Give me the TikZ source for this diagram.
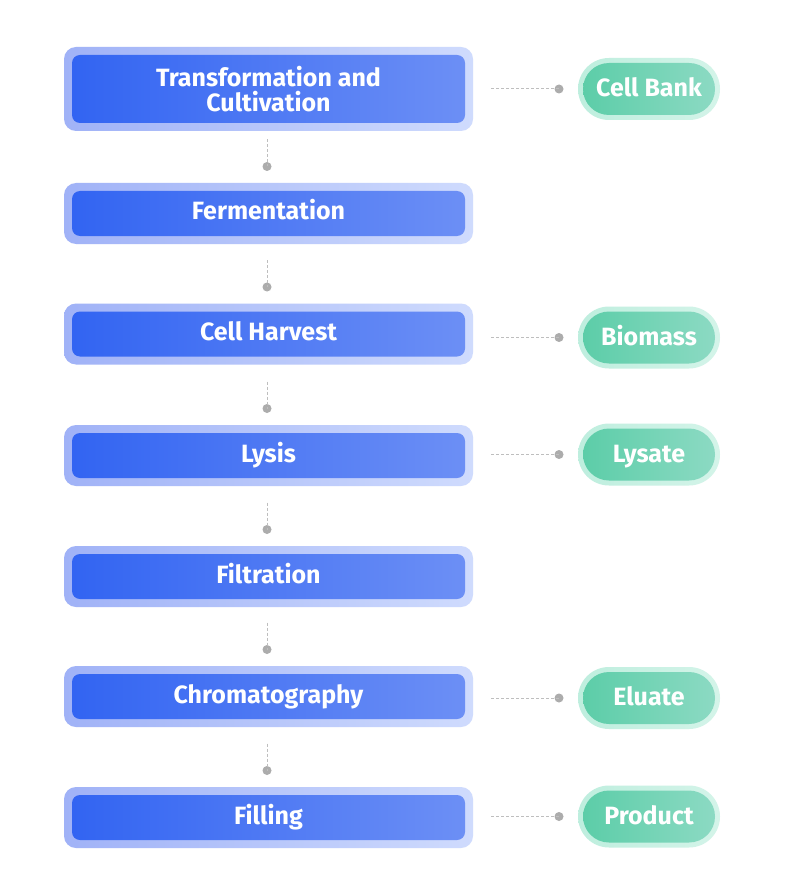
\documentclass[tikz,border=0pt]{standalone}
\usepackage{fontspec}
\setmainfont{Fira Sans}
\usetikzlibrary{shapes.misc,calc}
\definecolor{boL}{RGB}{160,178,247}
\definecolor{boR}{RGB}{207,219,253}
\definecolor{biL}{RGB}{50,100,242}
\definecolor{biR}{RGB}{108,143,245}
\definecolor{goL}{RGB}{190,238,222}
\definecolor{goR}{RGB}{212,244,233}
\definecolor{giL}{RGB}{92,205,168}
\definecolor{giR}{RGB}{140,218,195}
\definecolor{dashc}{RGB}{190,190,190}
\definecolor{dotc}{RGB}{172,172,172}
\tikzset{
  outerbox/.style={rectangle, rounded corners=12pt, minimum width=409pt, minimum height=61pt, left color=boL, right color=boR, draw=none, inner sep=0pt},
  innerbase/.style={rectangle, rounded corners=8pt, minimum width=393pt, minimum height=45pt, left color=biL, right color=biR, draw=none, text=white, font=\fontsize{25}{25.7}\selectfont\bfseries, inner sep=0pt},
  innerbox/.style={innerbase, text height=18pt, text depth=5pt},
  innertwo/.style={innerbase, align=center, minimum height=68pt},
  pillout/.style={rounded rectangle, minimum width=142pt, minimum height=62pt, left color=goL, right color=goR, draw=none, inner sep=0pt},
  pillin/.style={rounded rectangle, minimum width=132pt, minimum height=52pt, left color=giL, right color=giR, draw=none, text=white, font=\fontsize{25}{26}\selectfont\bfseries, inner sep=0pt, text height=19pt, text depth=4pt},
  dotnode/.style={circle, fill=dotc, minimum size=9pt, inner sep=0pt},
  conn/.style={draw=dashc, dash pattern=on 3pt off 2pt, line width=1pt}
}
\begin{document}
\begin{tikzpicture}[x=1pt,y=-1pt]
\useasboundingbox (0,0) rectangle (785,893);
\fill[white] (0,0) rectangle (785,893);
% process boxes
\node[outerbox, minimum height=84pt] (o0) at (268.5,89) {};
\node[innertwo] (s0) at (268.5,89) {Transformation and\\Cultivation};
\node[outerbox] (o1) at (268.5,213.5) {};
\node[innerbox] (s1) at (268.5,213.5) {Fermentation};
\node[outerbox] (o2) at (268.5,334) {};
\node[innerbox] (s2) at (268.5,334) {Cell Harvest};
\node[outerbox] (o3) at (268.5,455.5) {};
\node[innerbox] (s3) at (268.5,455.5) {Lysis};
\node[outerbox] (o4) at (268.5,576.5) {};
\node[innerbox] (s4) at (268.5,576.5) {Filtration};
\node[outerbox] (o5) at (268.5,696.5) {};
\node[innerbox] (s5) at (268.5,696.5) {Chromatography};
\node[outerbox] (o6) at (268.5,817.5) {};
\node[innerbox] (s6) at (268.5,817.5) {Filling};
% vertical connectors
\foreach \i/\y in {1/166.5,2/287,3/408.5,4/529.5,5/649.5,6/770.5}{
  \node[dotnode] (v\i) at (267,\y) {};
  \coordinate (vs\i) at (267,\y-27);
  \draw[conn] (vs\i) -- (v\i.center);
}
% outputs
\node[pillout] (po0) at (649,89) {};
\node[pillin] (p0) at (649,89) {Cell Bank};
\node[pillout] (po2) at (649,337.5) {};
\node[pillin] (p2) at (649,337.5) {Biomass};
\node[pillout] (po3) at (649,454.5) {};
\node[pillin] (p3) at (649,454.5) {Lysate};
\node[pillout] (po5) at (649,698) {};
\node[pillin] (p5) at (649,698) {Eluate};
\node[pillout] (po6) at (649,816.5) {};
\node[pillin] (p6) at (649,816.5) {Product};
% horizontal connectors
\foreach \i/\y in {0/89,2/337.5,3/454.5,5/698,6/816.5}{
  \node[dotnode] (h\i) at (559,\y) {};
  \coordinate (hs\i) at (491,\y);
  \draw[conn] (hs\i) -- (h\i.center);
}
\end{tikzpicture}
\end{document}
